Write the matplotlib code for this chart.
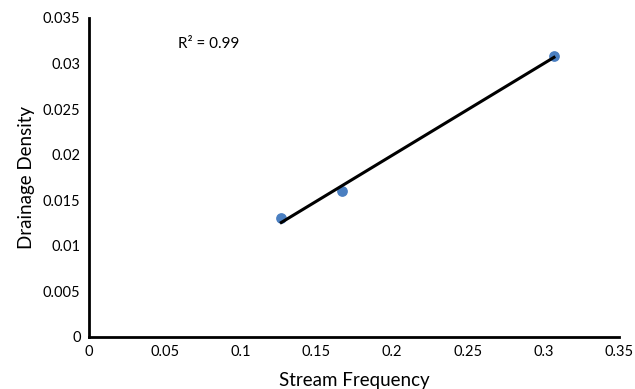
import numpy as np
import matplotlib
matplotlib.use('Agg')
import matplotlib.pyplot as plt

# Stream frequency vs drainage density
stream_freq = [0.127, 0.167, 0.307]
drainage_density = [0.013, 0.016, 0.0308]
r2_label = 'R² = 0.99'

plt.rcParams['font.family'] = ['Lato', 'DejaVu Sans']

fig = plt.figure(figsize=(6.35, 3.89), dpi=100)
ax = fig.add_axes([0.140, 0.134, 0.835, 0.820])

ax.scatter(stream_freq, drainage_density, s=45, color='#4a7fc1', zorder=2)

# linear trendline
coef = np.polyfit(stream_freq, drainage_density, 1)
xs = np.array([min(stream_freq), max(stream_freq)])
ax.plot(xs, np.polyval(coef, xs), color='black', lw=2.2, zorder=3)

ax.text(0.059, 0.0317, r2_label, fontsize=11)

ax.set_xlim(0, 0.35)
ax.set_ylim(0, 0.035)
ax.set_xticks([0, 0.05, 0.1, 0.15, 0.2, 0.25, 0.3, 0.35])
ax.set_xticklabels(['0', '0.05', '0.1', '0.15', '0.2', '0.25', '0.3', '0.35'])
ax.set_yticks([0, 0.005, 0.01, 0.015, 0.02, 0.025, 0.03, 0.035])
ax.set_yticklabels(['0', '0.005', '0.01', '0.015', '0.02', '0.025', '0.03', '0.035'])
ax.tick_params(length=0, labelsize=10.5, pad=6)

for side in ['top', 'right']:
    ax.spines[side].set_visible(False)
for side in ['left', 'bottom']:
    ax.spines[side].set_linewidth(2)

ax.set_xlabel('Stream Frequency', fontsize=13.5, labelpad=9)
ax.set_ylabel('Drainage Density', fontsize=13.5, labelpad=6)

fig.savefig('out.png', dpi=100)
